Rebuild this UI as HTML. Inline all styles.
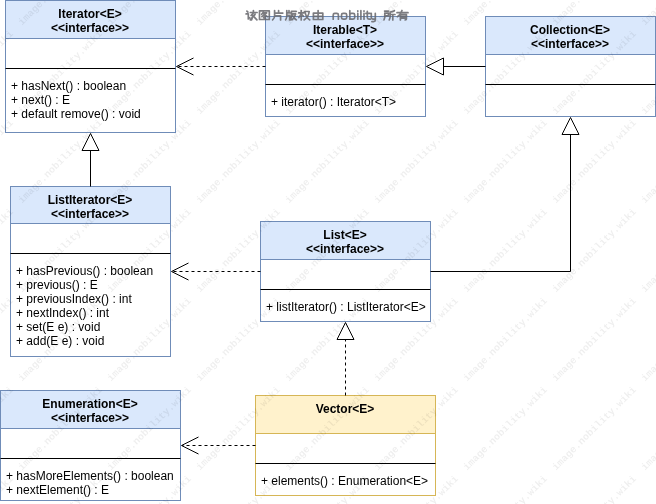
<!DOCTYPE html>
<html><head><meta charset="utf-8"><title>UML</title>
<style>
html,body{margin:0;padding:0;background:#fff}
body{width:656px;height:504px;position:relative;overflow:hidden;font-family:"Liberation Sans",sans-serif;font-size:12px;line-height:14px;color:#000}
svg{position:absolute;left:0;top:0}
.t,.m{will-change:transform}
.t{position:absolute;text-align:center;font-weight:bold;white-space:pre}
.m{position:absolute;white-space:pre}
.cw{position:absolute;left:245px;top:8px;font-size:12px;color:#8a8a8a;font-weight:bold;white-space:pre}
</style></head><body>
<svg width="656" height="504" viewBox="0 0 656 504">
<rect x="5.5" y="0.5" width="170.0" height="132.0" fill="#fff" stroke="#6f8cb8"/>
<rect x="5.5" y="0.5" width="170.0" height="38.0" fill="#dae8fc" stroke="#6f8cb8"/>
<path d="M5.5 68.5H175.5" stroke="#000"/>
<rect x="265.5" y="16.5" width="160.0" height="100.0" fill="#fff" stroke="#6f8cb8"/>
<rect x="265.5" y="16.5" width="160.0" height="38.0" fill="#dae8fc" stroke="#6f8cb8"/>
<path d="M265.5 84.5H425.5" stroke="#000"/>
<rect x="485.5" y="16.5" width="170.0" height="100.0" fill="#fff" stroke="#6f8cb8"/>
<rect x="485.5" y="16.5" width="170.0" height="38.0" fill="#dae8fc" stroke="#6f8cb8"/>
<path d="M485.5 84.5H655.5" stroke="#000"/>
<rect x="10.5" y="186.5" width="160.0" height="170.0" fill="#fff" stroke="#6f8cb8"/>
<rect x="10.5" y="186.5" width="160.0" height="37.0" fill="#dae8fc" stroke="#6f8cb8"/>
<path d="M10.5 253.5H170.5" stroke="#000"/>
<rect x="260.5" y="221.5" width="170.0" height="100.0" fill="#fff" stroke="#6f8cb8"/>
<rect x="260.5" y="221.5" width="170.0" height="38.0" fill="#dae8fc" stroke="#6f8cb8"/>
<path d="M260.5 289.5H430.5" stroke="#000"/>
<rect x="255.5" y="395.5" width="180.0" height="100.0" fill="#fff" stroke="#d6b656"/>
<rect x="255.5" y="395.5" width="180.0" height="38.0" fill="#fff2cc" stroke="#d6b656"/>
<path d="M255.5 463.5H435.5" stroke="#000"/>
<rect x="0.5" y="390.5" width="180.0" height="110.0" fill="#fff" stroke="#6f8cb8"/>
<rect x="0.5" y="390.5" width="180.0" height="38.0" fill="#dae8fc" stroke="#6f8cb8"/>
<path d="M0.5 458.5H180.5" stroke="#000"/>

<g fill="none" stroke="#000" stroke-width="1">
<path d="M265.5 66.5H177" stroke-dasharray="3 3"/>
<path d="M193.5 58L176.5 66.5L193.5 75"/>
<path d="M485.5 66.5H443.5"/>
<path d="M426.5 66.5L443.5 58V75Z" fill="#fff"/>
<path d="M90.5 186.5V150.5"/>
<path d="M90.5 133.5L99 150.5H82Z" fill="#fff"/>
<path d="M260.5 271.5H172" stroke-dasharray="3 3"/>
<path d="M188.5 263L171.5 271.5L188.5 280"/>
<path d="M430.5 271.5H570.5V134.5"/>
<path d="M570.5 117.5L579 134.5H562Z" fill="#fff"/>
<path d="M345.5 395.5V339.5" stroke-dasharray="3 3"/>
<path d="M345.5 322.5L354 339.5H337Z" fill="#fff"/>
<path d="M255.5 445.5H182" stroke-dasharray="3 3"/>
<path d="M198.5 437L181.5 445.5L198.5 454"/>
</g>

</svg>
<div class="t" style="left:5.0px;top:7.0px;width:170.0px">Iterator&lt;E&gt;<br>&lt;&lt;interface&gt;&gt;</div>
<div class="m" style="left:11.0px;top:78.5px">+ hasNext() : boolean<br>+ next() : E<br>+ default remove() : void</div>
<div class="t" style="left:265.0px;top:23.0px;width:160.0px">Iterable&lt;T&gt;<br>&lt;&lt;interface&gt;&gt;</div>
<div class="m" style="left:271.0px;top:94.5px">+ iterator() : Iterator&lt;T&gt;</div>
<div class="t" style="left:485.0px;top:23.0px;width:170.0px">Collection&lt;E&gt;<br>&lt;&lt;interface&gt;&gt;</div>
<div class="t" style="left:10.0px;top:193.0px;width:160.0px">ListIterator&lt;E&gt;<br>&lt;&lt;interface&gt;&gt;</div>
<div class="m" style="left:16.0px;top:263.5px">+ hasPrevious() : boolean<br>+ previous() : E<br>+ previousIndex() : int<br>+ nextIndex() : int<br>+ set(E e) : void<br>+ add(E e) : void</div>
<div class="t" style="left:260.0px;top:228.0px;width:170.0px">List&lt;E&gt;<br>&lt;&lt;interface&gt;&gt;</div>
<div class="m" style="left:266.0px;top:299.5px">+ listIterator() : ListIterator&lt;E&gt;</div>
<div class="t" style="left:255.0px;top:402.0px;width:180.0px">Vector&lt;E&gt;<br></div>
<div class="m" style="left:261.0px;top:473.5px">+ elements() : Enumeration&lt;E&gt;</div>
<div class="t" style="left:0.0px;top:397.0px;width:180.0px">Enumeration&lt;E&gt;<br>&lt;&lt;interface&gt;&gt;</div>
<div class="m" style="left:6.0px;top:468.5px">+ hasMoreElements() : boolean<br>+ nextElement() : E</div>
<svg width="656" height="504" viewBox="0 0 656 504" style="pointer-events:none">
<g fill="none" stroke="#6a6a6e" stroke-opacity="0.88" stroke-width="1.7" stroke-linecap="round" stroke-linejoin="round">
<path transform="translate(246.1 10.5)" d="M0.8 0.6L1.8 1.6 M0 3.4H2.2V8.4L3.6 7.2 M7.3 0V1.6 M4.2 2H11 M7.6 2.2L5 5H8.4 M9 3.6L4.2 9.4 M6.6 6.2L5.4 9.4 M8.2 6.6L10.8 9.4"/>
<path transform="translate(258.9 10.5)" d="M0.6 0.4H10.4V9H0.6Z M4.4 1.8L2.8 3.8 M4.2 2.4H7.8L3 6.2 M4.8 3.4L8.4 6.2 M5.2 5.8L6.2 6.4 M4.8 7.2L6.4 7.9"/>
<path transform="translate(272.0 10.5)" d="M2.6 0V5.2Q2.6 7.8 0.6 9.4 M6.6 0V2.6 M2.6 2.6H10.8 M2.6 5.3H8.6V9.4"/>
<path transform="translate(285.4 10.5)" d="M1.4 0V5Q1.4 8 0.2 9.4 M3.6 0V2.4 M1.4 2.4H4.6 M1.4 4.8H4.2V9.4 M6 0.8H10.8 M6 0.8V5Q6 8 5 9.4 M6.2 3.4H10.2Q9.6 7 6.6 9.4 M7 4.6Q8.4 8 11 9.4"/>
<path transform="translate(298.8 10.5)" d="M0 2.4H4.8 M2.4 0V9.4 M2.4 2.8Q1.8 5.6 0 7 M2.6 3.6L4.6 5.6 M5.6 1H10.4Q9.8 6.6 5.2 9.4 M6.4 2.4Q7.6 7.4 11 9.4"/>
<path transform="translate(312.6 10.5)" d="M0.8 2.6H10.2V9H0.8Z M0.8 5.8H10.2 M5.5 0V9"/>
<path transform="translate(384.0 10.5)" d="M0.6 0.6H4.6 M0.8 2.6H4.4V5.4H0.8 M0.8 2.6V5.6Q0.8 8 0 9.4 M10.4 0.2Q8.4 1.4 6.2 1.6V5.6Q6.2 8 5.2 9.4 M6.2 4H11 M8.8 4V9.4"/>
<path transform="translate(397.0 10.5)" d="M0 2.2H11 M5 0Q3.6 4 0.4 6.2 M3.4 4H9.4V8.6Q9.4 9.4 8.2 9.4 M3.4 4V9.4 M3.4 5.8H9.4 M3.4 7.6H9.4"/>
<path d="M333.2 19.2V15.0Q333.2 13.4 334.8 13.4H336.79999999999995Q338.4 13.4 338.4 15.0V19.2 M343.1 13.4H345.09999999999997Q346.7 13.4 346.7 15.0V17.599999999999998Q346.7 19.2 345.09999999999997 19.2H343.1Q341.5 19.2 341.5 17.599999999999998V15.0Q341.5 13.4 343.1 13.4Z M349.8 10.7V19.2 M351.40000000000003 13.4H353.09999999999997Q354.7 13.4 354.7 15.0V17.599999999999998Q354.7 19.2 353.09999999999997 19.2H351.40000000000003Q349.8 19.2 349.8 17.599999999999998V15.0Q349.8 13.4 351.40000000000003 13.4Z M357.8 13.4V19.2 M357.8 10.899999999999999V11.299999999999999 M360.9 10.7V19.2 M364.0 13.4V19.2 M364.0 10.899999999999999V11.299999999999999 M367.3 11.299999999999999V17.599999999999998Q367.3 19.2 368.90000000000003 19.2H370.2 M365.9 13.4H370.2 M371.3 13.4V17.599999999999998Q371.3 19.2 372.90000000000003 19.2H375.3 M375.3 13.4V20.0Q375.3 21.6 373.7 21.6H371.90000000000003"/>
</g>
<g font-family="Liberation Mono, monospace" font-size="10" font-weight="bold" fill="#000" fill-opacity="0.065">
<text transform="translate(-67.0 25.8) rotate(-45)">image.nobility.wiki</text>
<text transform="translate(-67.0 114.8) rotate(-45)">image.nobility.wiki</text>
<text transform="translate(-67.0 203.8) rotate(-45)">image.nobility.wiki</text>
<text transform="translate(-67.0 292.8) rotate(-45)">image.nobility.wiki</text>
<text transform="translate(-67.0 381.8) rotate(-45)">image.nobility.wiki</text>
<text transform="translate(-67.0 470.8) rotate(-45)">image.nobility.wiki</text>
<text transform="translate(-67.0 559.8) rotate(-45)">image.nobility.wiki</text>
<text transform="translate(22.0 25.8) rotate(-45)">image.nobility.wiki</text>
<text transform="translate(22.0 114.8) rotate(-45)">image.nobility.wiki</text>
<text transform="translate(22.0 203.8) rotate(-45)">image.nobility.wiki</text>
<text transform="translate(22.0 292.8) rotate(-45)">image.nobility.wiki</text>
<text transform="translate(22.0 381.8) rotate(-45)">image.nobility.wiki</text>
<text transform="translate(22.0 470.8) rotate(-45)">image.nobility.wiki</text>
<text transform="translate(22.0 559.8) rotate(-45)">image.nobility.wiki</text>
<text transform="translate(111.0 25.8) rotate(-45)">image.nobility.wiki</text>
<text transform="translate(111.0 114.8) rotate(-45)">image.nobility.wiki</text>
<text transform="translate(111.0 203.8) rotate(-45)">image.nobility.wiki</text>
<text transform="translate(111.0 292.8) rotate(-45)">image.nobility.wiki</text>
<text transform="translate(111.0 381.8) rotate(-45)">image.nobility.wiki</text>
<text transform="translate(111.0 470.8) rotate(-45)">image.nobility.wiki</text>
<text transform="translate(111.0 559.8) rotate(-45)">image.nobility.wiki</text>
<text transform="translate(200.0 25.8) rotate(-45)">image.nobility.wiki</text>
<text transform="translate(200.0 114.8) rotate(-45)">image.nobility.wiki</text>
<text transform="translate(200.0 203.8) rotate(-45)">image.nobility.wiki</text>
<text transform="translate(200.0 292.8) rotate(-45)">image.nobility.wiki</text>
<text transform="translate(200.0 381.8) rotate(-45)">image.nobility.wiki</text>
<text transform="translate(200.0 470.8) rotate(-45)">image.nobility.wiki</text>
<text transform="translate(200.0 559.8) rotate(-45)">image.nobility.wiki</text>
<text transform="translate(289.0 25.8) rotate(-45)">image.nobility.wiki</text>
<text transform="translate(289.0 114.8) rotate(-45)">image.nobility.wiki</text>
<text transform="translate(289.0 203.8) rotate(-45)">image.nobility.wiki</text>
<text transform="translate(289.0 292.8) rotate(-45)">image.nobility.wiki</text>
<text transform="translate(289.0 381.8) rotate(-45)">image.nobility.wiki</text>
<text transform="translate(289.0 470.8) rotate(-45)">image.nobility.wiki</text>
<text transform="translate(289.0 559.8) rotate(-45)">image.nobility.wiki</text>
<text transform="translate(378.0 25.8) rotate(-45)">image.nobility.wiki</text>
<text transform="translate(378.0 114.8) rotate(-45)">image.nobility.wiki</text>
<text transform="translate(378.0 203.8) rotate(-45)">image.nobility.wiki</text>
<text transform="translate(378.0 292.8) rotate(-45)">image.nobility.wiki</text>
<text transform="translate(378.0 381.8) rotate(-45)">image.nobility.wiki</text>
<text transform="translate(378.0 470.8) rotate(-45)">image.nobility.wiki</text>
<text transform="translate(378.0 559.8) rotate(-45)">image.nobility.wiki</text>
<text transform="translate(467.0 25.8) rotate(-45)">image.nobility.wiki</text>
<text transform="translate(467.0 114.8) rotate(-45)">image.nobility.wiki</text>
<text transform="translate(467.0 203.8) rotate(-45)">image.nobility.wiki</text>
<text transform="translate(467.0 292.8) rotate(-45)">image.nobility.wiki</text>
<text transform="translate(467.0 381.8) rotate(-45)">image.nobility.wiki</text>
<text transform="translate(467.0 470.8) rotate(-45)">image.nobility.wiki</text>
<text transform="translate(467.0 559.8) rotate(-45)">image.nobility.wiki</text>
<text transform="translate(556.0 25.8) rotate(-45)">image.nobility.wiki</text>
<text transform="translate(556.0 114.8) rotate(-45)">image.nobility.wiki</text>
<text transform="translate(556.0 203.8) rotate(-45)">image.nobility.wiki</text>
<text transform="translate(556.0 292.8) rotate(-45)">image.nobility.wiki</text>
<text transform="translate(556.0 381.8) rotate(-45)">image.nobility.wiki</text>
<text transform="translate(556.0 470.8) rotate(-45)">image.nobility.wiki</text>
<text transform="translate(556.0 559.8) rotate(-45)">image.nobility.wiki</text>
<text transform="translate(645.0 25.8) rotate(-45)">image.nobility.wiki</text>
<text transform="translate(645.0 114.8) rotate(-45)">image.nobility.wiki</text>
<text transform="translate(645.0 203.8) rotate(-45)">image.nobility.wiki</text>
<text transform="translate(645.0 292.8) rotate(-45)">image.nobility.wiki</text>
<text transform="translate(645.0 381.8) rotate(-45)">image.nobility.wiki</text>
<text transform="translate(645.0 470.8) rotate(-45)">image.nobility.wiki</text>
<text transform="translate(645.0 559.8) rotate(-45)">image.nobility.wiki</text>
</g>
</svg>
</body></html>
